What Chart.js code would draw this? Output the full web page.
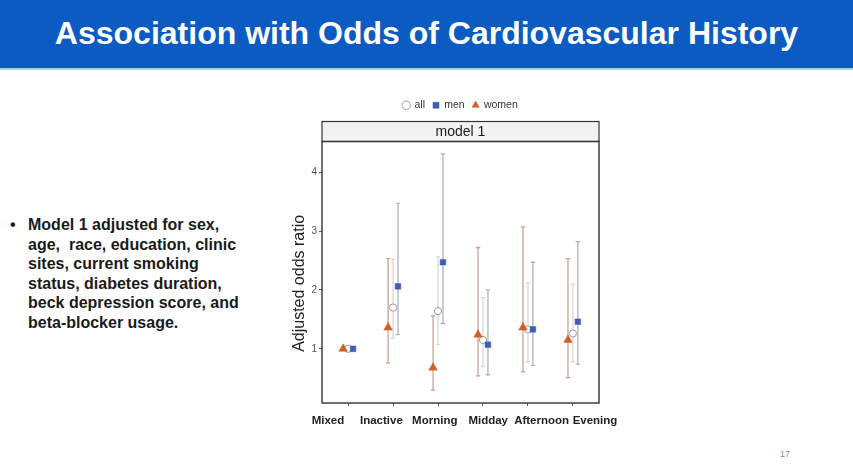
<!DOCTYPE html>
<html><head><meta charset="utf-8">
<script src="https://cdn.jsdelivr.net/npm/chart.js@4.4.1/dist/chart.umd.min.js"></script>
<style>
html,body{margin:0;padding:0;width:853px;height:475px;overflow:hidden;background:#fff;font-family:"Liberation Sans",Arial,sans-serif;}
#banner{position:absolute;left:0;top:0;width:853px;height:68px;background:#0b5bc2;border-bottom:2px solid #a9c9ec;}
#banner h1{margin:0;color:#fff;font-size:32px;font-weight:bold;text-align:center;line-height:66px;}
#notes{position:absolute;left:10px;top:215px;width:280px;font-size:16px;font-weight:bold;line-height:19.6px;color:#1a1a1a;}
#notes .b{position:absolute;left:0;top:0;}
#notes .t{margin-left:18px;}
#page{position:absolute;left:780px;top:449px;font-size:9px;color:#888;}
#wrap{position:absolute;left:0;top:0;width:853px;height:475px;}
</style></head>
<body>
<div id="banner"><h1>Association with Odds of Cardiovascular History</h1></div>
<div id="notes"><span class="b">•</span><div class="t">Model 1 adjusted for sex,<br>age,&nbsp; race, education, clinic<br>sites, current smoking<br>status, diabetes duration,<br>beck depression score, and<br>beta-blocker usage.</div></div>
<div id="page">17</div>
<div id="wrap"><canvas id="c" width="853" height="475"></canvas></div>
<script>
// ---- data ----
const categories = ["Mixed", "Inactive", "Morning", "Midday", "Afternoon", "Evening"];
const yTicks = [1, 2, 3, 4];
const seriesNames = ["all", "men", "women"];

const allOR    = [1.00, 1.70, 1.64, 1.15, 1.33, 1.26];
const allLow   = [null, 1.18, 1.07, 0.70, 0.78, 0.78];
const allHigh  = [null, 2.52, 2.56, 1.87, 2.12, 2.10];

const menOR    = [1.00, 2.06, 2.47, 1.07, 1.33, 1.46];
const menLow   = [null, 1.24, 1.43, 0.56, 0.72, 0.74];
const menHigh  = [null, 3.47, 4.31, 2.00, 2.47, 2.82];

const womenOR   = [1.00, 1.36, 0.68, 1.24, 1.36, 1.15];
const womenLow  = [null, 0.76, 0.30, 0.54, 0.61, 0.51];
const womenHigh = [null, 2.53, 1.56, 2.72, 3.07, 2.53];

// ---- styling ----
const dodge = { all: 0, men: 0.11, women: -0.11 };
const markerColor = { all: "#ffffff", men: "#3d5fb0", women: "#d0602a" };
const markerBorder = { all: "#9a9a9a", men: "#3d5fb0", women: "#d0602a" };
const errColor = { all: "#d8d8d8", men: "#afb3bf", women: "#c8a496" };

function pts(vals, lo, hi, key) {
  return vals.map((v, i) => ({ x: i + dodge[key], y: v, lo: lo[i], hi: hi[i] }));
}

const datasets = [
  { label: seriesNames[0], key: "all", data: pts(allOR, allLow, allHigh, "all"), pointStyle: "circle",
    pointRadius: 3.6, pointBorderWidth: 1, backgroundColor: markerColor.all, borderColor: markerBorder.all, order: 3 },
  { label: seriesNames[1], key: "men", data: pts(menOR, menLow, menHigh, "men"), pointStyle: "rect",
    pointRadius: 4, pointBorderWidth: 0.5, backgroundColor: markerColor.men, borderColor: markerBorder.men, order: 1 },
  { label: seriesNames[2], key: "women", data: pts(womenOR, womenLow, womenHigh, "women"), pointStyle: "triangle",
    pointRadius: 5, pointBorderWidth: 0.5, backgroundColor: markerColor.women, borderColor: markerBorder.women, order: 2 }
];

const errorBars = {
  id: "errorBars",
  beforeDatasetsDraw(chart) {
    const { ctx, scales: { x, y } } = chart;
    ctx.save();
    const order = [0, 2, 1];
    order.forEach(di => {
      const ds = chart.data.datasets[di];
      ctx.strokeStyle = errColor[ds.key];
      ctx.lineWidth = 1.3;
      ds.data.forEach(p => {
        if (p.lo == null) return;
        const px = x.getPixelForValue(p.x);
        const yl = y.getPixelForValue(p.lo), yh = y.getPixelForValue(p.hi);
        ctx.beginPath();
        ctx.moveTo(px, yl); ctx.lineTo(px, yh);
        ctx.moveTo(px - 2.2, yl); ctx.lineTo(px + 2.2, yl);
        ctx.moveTo(px - 2.2, yh); ctx.lineTo(px + 2.2, yh);
        ctx.stroke();
      });
    });
    ctx.restore();
  }
};

const panel = {
  id: "panel",
  beforeDraw(chart) {
    const { ctx, chartArea: a } = chart;
    ctx.save();
    ctx.fillStyle = "#f2f2f2";
    ctx.fillRect(a.left, a.top - 20, a.right - a.left, 20);
    ctx.strokeStyle = "#333";
    ctx.lineWidth = 1.2;
    ctx.strokeRect(a.left, a.top - 20, a.right - a.left, 20);
    ctx.restore();
  },
  afterDatasetsDraw(chart) {
    const { ctx, chartArea: a } = chart;
    ctx.save();
    ctx.strokeStyle = "#333";
    ctx.lineWidth = 1.4;
    ctx.strokeRect(a.left, a.top, a.right - a.left, a.bottom - a.top);
    ctx.restore();
  }
};

new Chart(document.getElementById("c"), {
  type: "scatter",
  data: { datasets },
  plugins: [panel, errorBars],
  options: {
    responsive: false,
    animation: false,
    layout: { padding: { left: 289, right: 254, top: 92, bottom: 42 } },
    plugins: {
      tooltip: { enabled: false },
      legend: {
        position: "top", fullSize: false,
        labels: { usePointStyle: true, boxWidth: 6, boxHeight: 6, padding: 8, color: "#333",
                  font: { family: "Liberation Sans", size: 10.5 },
                  sort: (a, b) => a.datasetIndex - b.datasetIndex }
      },
      title: {
        display: true, text: "model 1", position: "top", fullSize: false, weight: 500,
        color: "#1a1a1a", font: { family: "Liberation Sans", size: 14, weight: "normal", lineHeight: "19px" },
        padding: { top: 2, bottom: 0 }
      }
    },
    scales: {
      x: {
        type: "linear", min: -0.58, max: 5.58,
        afterBuildTicks: s => { s.ticks = categories.map((c, i) => ({ value: i })); },
        afterFit: s => { s.height = 3; s.paddingLeft = 0; s.paddingRight = 0; },
        grid: { display: true, drawOnChartArea: false, drawTicks: true, tickLength: 3, color: "#555" },
        border: { display: false },
        ticks: { display: false }
      },
      xLabels: {
        type: "linear", position: "bottom", min: -0.112, max: 5.075,
        afterBuildTicks: s => { s.ticks = categories.map((c, i) => ({ value: i })); },
        afterFit: s => { s.height = 27; s.paddingLeft = 0; s.paddingRight = 0; },
        grid: { display: false },
        border: { display: false },
        ticks: { callback: v => categories[v], color: "#222", padding: 0,
                 font: { family: "Liberation Sans", size: 11.5, weight: "bold" }, maxRotation: 0, autoSkip: false }
      },
      y: {
        type: "linear", min: 0.08, max: 4.52,
        afterBuildTicks: s => { s.ticks = yTicks.map(v => ({ value: v })); },
        afterFit: s => { s.width = 33; },
        grid: { display: true, drawOnChartArea: false, drawTicks: true, tickLength: 3, color: "#555" },
        border: { display: false },
        ticks: { color: "#555", padding: 2, font: { family: "Liberation Sans", size: 10 } },
        title: { display: true, text: "Adjusted odds ratio     ", color: "#222", padding: 1,
                 font: { family: "Liberation Sans", size: 16 } }
      }
    }
  }
});
</script>
</body></html>
